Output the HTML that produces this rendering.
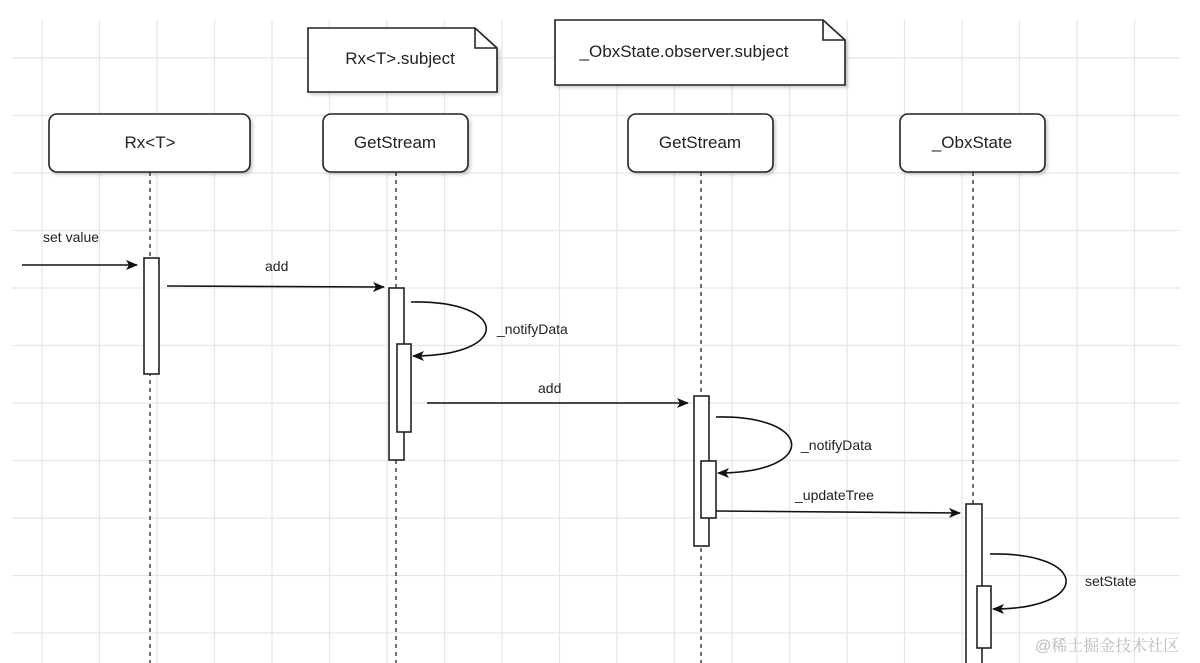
<!DOCTYPE html>
<html><head><meta charset="utf-8"><style>
html,body{margin:0;padding:0;background:#fff;width:1200px;height:663px;overflow:hidden}
svg{display:block}
text{font-family:"Liberation Sans",sans-serif;fill:#222}
</style></head><body>
<svg width="1200" height="663" viewBox="0 0 1200 663" xmlns="http://www.w3.org/2000/svg">
<defs>
<marker id="ah" markerWidth="12" markerHeight="12" refX="11" refY="6" orient="auto" markerUnits="userSpaceOnUse">
<path d="M0,1 L12,6 L0,11 L3,6 Z" fill="#111"/></marker>
<filter id="sh" x="-10%" y="-10%" width="130%" height="140%"><feDropShadow dx="2" dy="2" stdDeviation="1.5" flood-color="#000" flood-opacity="0.2"/></filter>
</defs>
<g stroke="#e6e6e6" stroke-width="1.2">
<line x1="42" y1="20" x2="42" y2="663"/><line x1="99.5" y1="20" x2="99.5" y2="663"/><line x1="157" y1="20" x2="157" y2="663"/><line x1="214.5" y1="20" x2="214.5" y2="663"/><line x1="272" y1="20" x2="272" y2="663"/><line x1="329.5" y1="20" x2="329.5" y2="663"/><line x1="387" y1="20" x2="387" y2="663"/><line x1="444.5" y1="20" x2="444.5" y2="663"/><line x1="502" y1="20" x2="502" y2="663"/><line x1="559.5" y1="20" x2="559.5" y2="663"/><line x1="617" y1="20" x2="617" y2="663"/><line x1="674.5" y1="20" x2="674.5" y2="663"/><line x1="732" y1="20" x2="732" y2="663"/><line x1="789.5" y1="20" x2="789.5" y2="663"/><line x1="847" y1="20" x2="847" y2="663"/><line x1="904.5" y1="20" x2="904.5" y2="663"/><line x1="962" y1="20" x2="962" y2="663"/><line x1="1019.5" y1="20" x2="1019.5" y2="663"/><line x1="1077" y1="20" x2="1077" y2="663"/><line x1="1134.5" y1="20" x2="1134.5" y2="663"/>
<line x1="12" y1="58" x2="1180" y2="58"/><line x1="12" y1="115.5" x2="1180" y2="115.5"/><line x1="12" y1="173" x2="1180" y2="173"/><line x1="12" y1="230.5" x2="1180" y2="230.5"/><line x1="12" y1="288" x2="1180" y2="288"/><line x1="12" y1="345.5" x2="1180" y2="345.5"/><line x1="12" y1="403" x2="1180" y2="403"/><line x1="12" y1="460.5" x2="1180" y2="460.5"/><line x1="12" y1="518" x2="1180" y2="518"/><line x1="12" y1="575.5" x2="1180" y2="575.5"/><line x1="12" y1="633" x2="1180" y2="633"/>
</g>
<g fill="#fff" stroke="#222" stroke-width="1.6" filter="url(#sh)">
<path d="M308,28 H475 L497,48 V92 H308 Z"/>
<path d="M555,20 H823 L845,40 V85 H555 Z"/>
<rect x="49" y="114" width="201" height="58" rx="8"/>
<rect x="323" y="114" width="145" height="58" rx="8"/>
<rect x="628" y="114" width="145" height="58" rx="8"/>
<rect x="900" y="114" width="145" height="58" rx="8"/>
</g>
<g fill="none" stroke="#222" stroke-width="1.6">
<path d="M475,28 V48 H497"/><path d="M823,20 V40 H845"/>
</g>
<g stroke="#222" stroke-width="1.3" stroke-dasharray="4,4">
<line x1="150" y1="172" x2="150" y2="663"/><line x1="396" y1="172" x2="396" y2="663"/><line x1="701" y1="172" x2="701" y2="663"/><line x1="973" y1="172" x2="973" y2="663"/>
</g>
<g fill="#fff" stroke="#222" stroke-width="1.6">
<rect x="144" y="258" width="15" height="116"/>
<rect x="389" y="288" width="15" height="172"/><rect x="397" y="344" width="14" height="88"/>
<rect x="694" y="396" width="15" height="150"/><rect x="701" y="461" width="15" height="57"/>
<rect x="966" y="504" width="16" height="162"/><rect x="977" y="586" width="14" height="62"/>
</g>
<g fill="none" stroke="#111" stroke-width="1.6" marker-end="url(#ah)">
<line x1="22" y1="265" x2="137" y2="265"/>
<line x1="167" y1="286" x2="384" y2="287"/>
<path d="M411,302 C510,300 512,356 413,356"/>
<line x1="427" y1="403" x2="688" y2="403"/>
<path d="M716,417 C815,415 818,473 718,473"/>
<line x1="716" y1="511" x2="960" y2="513"/>
<path d="M990,554 C1090,552 1092,609 993,609"/>
</g>
<g font-size="17" text-anchor="middle">
<text x="400" y="64">Rx&lt;T&gt;.subject</text>
<text x="684" y="57">_ObxState.observer.subject</text>
<text x="150" y="148">Rx&lt;T&gt;</text>
<text x="395" y="148">GetStream</text>
<text x="700" y="148">GetStream</text>
<text x="972" y="148">_ObxState</text>
</g>
<g font-size="14">
<text x="43" y="242">set value</text>
<text x="265" y="271">add</text>
<text x="497" y="334">_notifyData</text>
<text x="538" y="393">add</text>
<text x="801" y="450">_notifyData</text>
<text x="795" y="500">_updateTree</text>
<text x="1085" y="586">setState</text>
</g>
<text x="1035" y="651" font-size="16" style="font-family:'Liberation Sans','Noto Serif CJK SC',sans-serif;fill:#bbb">@稀土掘金技术社区</text>
</svg>
</body></html>
